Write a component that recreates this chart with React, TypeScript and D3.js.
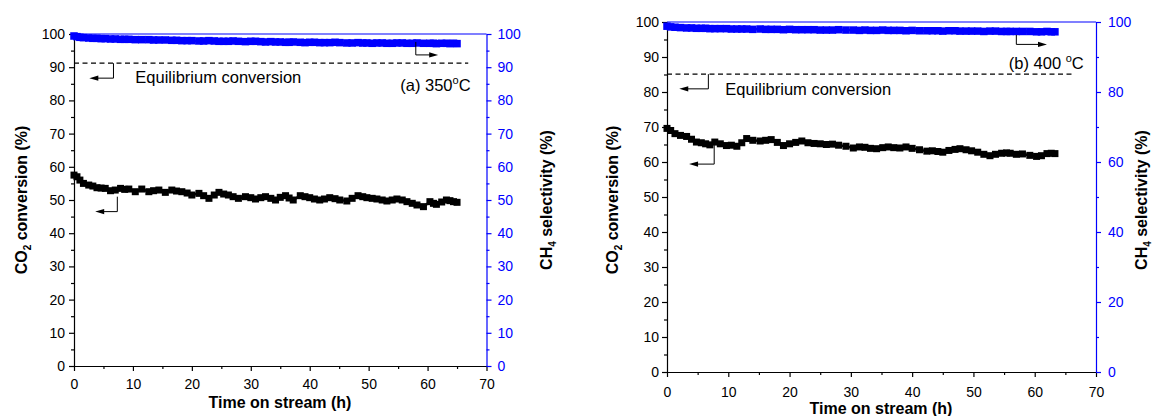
import React, { useEffect, useRef } from 'react';
import * as d3 from 'd3';

// (a) 350 °C
const leftTime = [
  0, 0.5, 1.0, 1.6, 2.5, 3.2, 3.9, 4.6, 5.3, 6.2,
  7.0, 7.9, 8.6, 9.3, 10.4, 11.5, 12.7, 13.5, 14.4, 15.5,
  16.6, 17.4, 18.3, 19.2, 20.0, 21.2, 22.0, 22.9, 23.8, 24.6,
  25.4, 26.2, 27.0, 27.9, 29.1, 30.0, 30.8, 31.7, 32.5, 33.4,
  34.2, 35.0, 35.9, 36.5, 37.2, 38.4, 39.2, 40.0, 40.8, 41.7,
  42.5, 43.4, 44.3, 45.1, 46.3, 47.2, 48.2, 49.0, 49.7, 50.6,
  51.4, 52.3, 53.1, 54.0, 54.8, 55.7, 56.5, 57.4, 58.2, 59.3,
  60.4, 61.0, 61.5, 62.4, 63.2, 63.8, 64.4, 65.0,
];
const leftCO2 = [
  57.5, 57, 56, 55, 54.5, 54.2, 53.7, 53.6, 53.5, 52.8,
  53, 53.5, 53.2, 53.3, 52.5, 53.3, 52.5, 52.8, 53, 52.3,
  53, 52.7, 52.5, 52.1, 51.5, 52, 51.3, 50.5, 51.5, 52.3,
  51.8, 51.5, 51, 50.5, 51, 50.7, 50.3, 50.7, 51, 50.5,
  50, 50.8, 51.3, 50.6, 50, 51.3, 51, 50.7, 50.3, 50,
  50.3, 50.7, 50.4, 50, 49.7, 50.5, 51.3, 51, 50.7, 50.5,
  50.3, 50, 49.7, 50, 50.3, 50, 49.5, 49, 48.5, 48,
  49.5, 49, 48.7, 49.4, 50, 49.8, 49.5, 49.3,
];
const leftCH4 = [
  99.4, 99.2, 99.0, 98.9, 98.8, 98.7, 98.7, 98.6, 98.6, 98.5,
  98.5, 98.4, 98.4, 98.4, 98.3, 98.3, 98.3, 98.2, 98.2, 98.2,
  98.1, 98.1, 98.0, 98.0, 98.0, 97.9, 97.9, 98.0, 97.9, 97.8,
  97.8, 97.8, 97.9, 97.8, 97.7, 97.8, 97.8, 97.7, 97.6, 97.7,
  97.6, 97.6, 97.5, 97.5, 97.6, 97.5, 97.4, 97.5, 97.5, 97.4,
  97.4, 97.4, 97.5, 97.4, 97.3, 97.3, 97.4, 97.3, 97.3, 97.2,
  97.3, 97.3, 97.2, 97.2, 97.3, 97.3, 97.2, 97.2, 97.3, 97.2,
  97.2, 97.2, 97.1, 97.2, 97.2, 97.1, 97.2, 97.1,
];

// (b) 400 °C
const rightTime = [
  0, 0.6, 1.3, 2.2, 3.2, 4.0, 4.8, 5.6, 6.3, 7.0,
  7.8, 8.7, 9.7, 10.5, 11.4, 12.2, 13.0, 14.0, 15.2, 16.1,
  17.0, 18.0, 19.0, 20.0, 21.0, 22.0, 23.0, 24.0, 25.0, 26.0,
  27.0, 28.0, 29.2, 30.4, 31.4, 32.3, 33.2, 34.2, 35.2, 36.1,
  37.0, 38.0, 39.0, 40.0, 41.2, 42.4, 43.3, 44.2, 45.0, 46.0,
  47.0, 47.8, 48.8, 49.7, 50.7, 51.7, 52.7, 53.6, 54.6, 55.4,
  56.0, 57.0, 58.0, 59.2, 60.3, 61.1, 62.0, 62.7, 63.3,
];
const rightCO2 = [
  69.6, 69, 68.1, 67.6, 67.3, 66.5, 65.7, 65.5, 65.2, 64.9,
  65.7, 65.2, 64.7, 64.8, 64.5, 65.5, 66.7, 66.2, 66, 66.2,
  66.4, 65.6, 64.7, 65.2, 65.6, 66, 65.5, 65.3, 65.2, 65,
  65.1, 64.8, 64.5, 64, 64.3, 64.2, 63.9, 63.8, 64.1, 64.3,
  64.1, 64, 64.3, 63.9, 63.5, 63.1, 63.2, 63, 62.8, 63.3,
  63.6, 63.8, 63.5, 63.2, 62.8, 62.2, 61.8, 62.2, 62.5, 62.6,
  62.5, 62.2, 62.3, 61.9, 61.6, 61.8, 62.4, 62.5, 62.4,
];
const rightCH4 = [
  98.8, 98.6, 98.5, 98.4, 98.3, 98.3, 98.2, 98.2, 98.2, 98.1,
  98.1, 98.1, 98.1, 98.0, 98.0, 98.0, 98.0, 97.9, 98.0, 97.9,
  97.9, 97.9, 97.8, 97.9, 97.8, 97.8, 97.8, 97.8, 97.7, 97.7,
  97.7, 97.8, 97.7, 97.7, 97.6, 97.7, 97.6, 97.6, 97.7, 97.6,
  97.6, 97.6, 97.5, 97.6, 97.5, 97.5, 97.5, 97.5, 97.4, 97.5,
  97.5, 97.4, 97.4, 97.4, 97.4, 97.3, 97.4, 97.4, 97.3, 97.3,
  97.3, 97.3, 97.3, 97.3, 97.2, 97.2, 97.3, 97.2, 97.2,
];

const xTicks = [0, 10, 20, 30, 40, 50, 60, 70];
const xMinor = [5, 15, 25, 35, 45, 55, 65];
const yTicks = [0, 10, 20, 30, 40, 50, 60, 70, 80, 90, 100];
const yMinor = [5, 15, 25, 35, 45, 55, 65, 75, 85, 95];
const y2TicksB = [0, 20, 40, 60, 80, 100];
const y2MinorB = [10, 30, 50, 70, 90];

const equilibrium = [91.2, 85.1];
const panelTags = ['(a) 350', '(b) 400 '];

const FONT = '"Liberation Sans", Arial, Helvetica, sans-serif';
const BLUE = '#0000ff';

function App() {
  const ref = useRef<SVGSVGElement>(null);

  useEffect(() => {
    const svg = d3.select(ref.current);
    svg.selectAll('*').remove();

    const panels = [
      {
        left: 74, right: 486.5, top: 34, bottom: 366,
        time: leftTime, co2: leftCO2, ch4: leftCH4,
        r2Ticks: yTicks, r2Minor: yMinor,
        eq: equilibrium[0], eqEnd: 66.9, tag: panelTags[0], tagAt: [67.3, 82.9],
        eqArrow: [6.7, 86.7, 2.6], eqText: [10.4, 85.2],
        ch4Arrow: [58, 97.6, 93.7, 61.8],
        co2Arrow: [7.35, 51, 46.5, 3.6],
        xPad: 8, lPad: 4, rPad: 6,
        xTitle: [280, 408], yTitleL: 27, yTitleR: 552, yMid: 200,
      },
      {
        left: 667, right: 1096, top: 22, bottom: 372,
        time: rightTime, co2: rightCO2, ch4: rightCH4,
        r2Ticks: y2TicksB, r2Minor: y2MinorB,
        eq: equilibrium[1], eqEnd: 66, tag: panelTags[1], tagAt: [68, 86.5],
        eqArrow: [6.75, 80.9, 2], eqText: [9.5, 79.1],
        ch4Arrow: [57, 96.3, 93.6, 62],
        co2Arrow: [7.7, 64.9, 59.4, 3.6],
        xPad: 10, lPad: 3, rPad: 7,
        xTitle: [881, 414], yTitleL: 618, yTitleR: 1147, yMid: 200,
      },
    ];

    panels.forEach((p) => {
      const x = d3.scaleLinear().domain([0, 70]).range([p.left, p.right]);
      const y = d3.scaleLinear().domain([0, 100]).range([p.bottom, p.top]);
      const g = svg.append('g');

      const styleAxis = (sel: any, color: string) => {
        sel.selectAll('path, line').attr('stroke', color).attr('stroke-width', 1.2);
        sel.selectAll('text')
          .attr('fill', color)
          .style('font-family', FONT)
          .style('font-size', '14px');
      };

      // frame top (blue)
      g.append('line')
        .attr('x1', p.left).attr('x2', p.right)
        .attr('y1', p.top).attr('y2', p.top)
        .attr('stroke', BLUE).attr('stroke-width', 1.2);

      // bottom axis
      const bx = g.append('g').attr('transform', `translate(0,${p.bottom})`)
        .call(d3.axisBottom(x).tickValues(xTicks).tickSize(5).tickSizeOuter(0).tickPadding(p.xPad));
      styleAxis(bx, '#000');
      const bxm = g.append('g').attr('transform', `translate(0,${p.bottom})`)
        .call(d3.axisBottom(x).tickValues(xMinor).tickSize(3).tickFormat(() => ''));
      bxm.select('.domain').remove();
      styleAxis(bxm, '#000');

      // right axis (blue)
      const ry = g.append('g').attr('transform', `translate(${p.right},0)`)
        .call(d3.axisRight(y).tickValues(p.r2Ticks).tickSize(5).tickSizeOuter(0).tickPadding(p.rPad));
      styleAxis(ry, BLUE);
      const rym = g.append('g').attr('transform', `translate(${p.right},0)`)
        .call(d3.axisRight(y).tickValues(p.r2Minor).tickSize(3).tickFormat(() => ''));
      rym.select('.domain').remove();
      styleAxis(rym, BLUE);

      // left axis
      const ly = g.append('g').attr('transform', `translate(${p.left},0)`)
        .call(d3.axisLeft(y).tickValues(yTicks).tickSize(5).tickSizeOuter(0).tickPadding(p.lPad));
      styleAxis(ly, '#000');
      const lym = g.append('g').attr('transform', `translate(${p.left},0)`)
        .call(d3.axisLeft(y).tickValues(yMinor).tickSize(3).tickFormat(() => ''));
      lym.select('.domain').remove();
      styleAxis(lym, '#000');

      // equilibrium line
      g.append('line')
        .attr('x1', x(0)).attr('x2', x(p.eqEnd))
        .attr('y1', y(p.eq)).attr('y2', y(p.eq))
        .attr('stroke', '#000').attr('stroke-width', 1.2)
        .attr('stroke-dasharray', '5,3.5');

      // series
      const drawSeries = (vals: number[], color: string, size: number) => {
        const line = d3.line<number>()
          .x((_, i) => x(p.time[i]))
          .y((d) => y(d));
        g.append('path')
          .datum(vals)
          .attr('d', line)
          .attr('fill', 'none')
          .attr('stroke', color)
          .attr('stroke-width', 2.5);
        g.selectAll(null)
          .data(vals)
          .enter()
          .append('rect')
          .attr('x', (_, i) => x(p.time[i]) - size / 2)
          .attr('y', (d) => y(d) - size / 2)
          .attr('width', size)
          .attr('height', size)
          .attr('fill', color);
      };
      drawSeries(p.ch4, BLUE, 7.5);
      drawSeries(p.co2, '#000', 7);

      // bent arrows
      const arrow = (xv: number, y1: number, y2: number, xe: number) => {
        const X = x(xv), Y1 = y(y1), Y2 = y(y2), XE = x(xe);
        const dir = XE < X ? -1 : 1;
        g.append('path')
          .attr('d', `M${X},${Y1}V${Y2}H${XE - dir * 6}`)
          .attr('fill', 'none').attr('stroke', '#000').attr('stroke-width', 1);
        g.append('path')
          .attr('d', `M${XE},${Y2}L${XE - dir * 9},${Y2 - 2.6}L${XE - dir * 9},${Y2 + 2.6}Z`)
          .attr('fill', '#000');
      };
      arrow(p.eqArrow[0], p.eq, p.eqArrow[1], p.eqArrow[2]);
      arrow(p.ch4Arrow[0], p.ch4Arrow[1], p.ch4Arrow[2], p.ch4Arrow[3]);
      arrow(p.co2Arrow[0], p.co2Arrow[1], p.co2Arrow[2], p.co2Arrow[3]);

      g.append('text')
        .attr('x', x(p.eqText[0])).attr('y', y(p.eqText[1]))
        .style('font-family', FONT).style('font-size', '16.5px')
        .text('Equilibrium conversion');

      const tag = g.append('text')
        .attr('x', x(p.tagAt[0])).attr('y', y(p.tagAt[1]))
        .attr('text-anchor', 'end')
        .style('font-family', FONT).style('font-size', '16.5px');
      tag.append('tspan').text(p.tag);
      tag.append('tspan').attr('dy', -7).style('font-size', '11px').text('o');
      tag.append('tspan').attr('dy', 7).text('C');

      // titles
      g.append('text')
        .attr('x', p.xTitle[0]).attr('y', p.xTitle[1])
        .attr('text-anchor', 'middle')
        .style('font-family', FONT).style('font-size', '16px').style('font-weight', 'bold')
        .text('Time on stream (h)');

      const yl = g.append('text')
        .attr('transform', `translate(${p.yTitleL},${p.yMid}) rotate(-90)`)
        .attr('text-anchor', 'middle')
        .style('font-family', FONT).style('font-size', '16px').style('font-weight', 'bold');
      yl.append('tspan').text('CO');
      yl.append('tspan').attr('dy', 4).style('font-size', '10px').text('2');
      yl.append('tspan').attr('dy', -4).text(' conversion (%)');

      const yr = g.append('text')
        .attr('transform', `translate(${p.yTitleR},${p.yMid}) rotate(-90)`)
        .attr('text-anchor', 'middle')
        .style('font-family', FONT).style('font-size', '16px').style('font-weight', 'bold');
      yr.append('tspan').text('CH');
      yr.append('tspan').attr('dy', 4).style('font-size', '10px').text('4');
      yr.append('tspan').attr('dy', -4).text(' selectivity (%)');
    });
  }, []);

  return (
    <svg
      ref={ref}
      width={1154}
      height={416}
      style={{ position: 'absolute', left: 0, top: 0, background: '#fff' }}
    />
  );
}

export default App;
